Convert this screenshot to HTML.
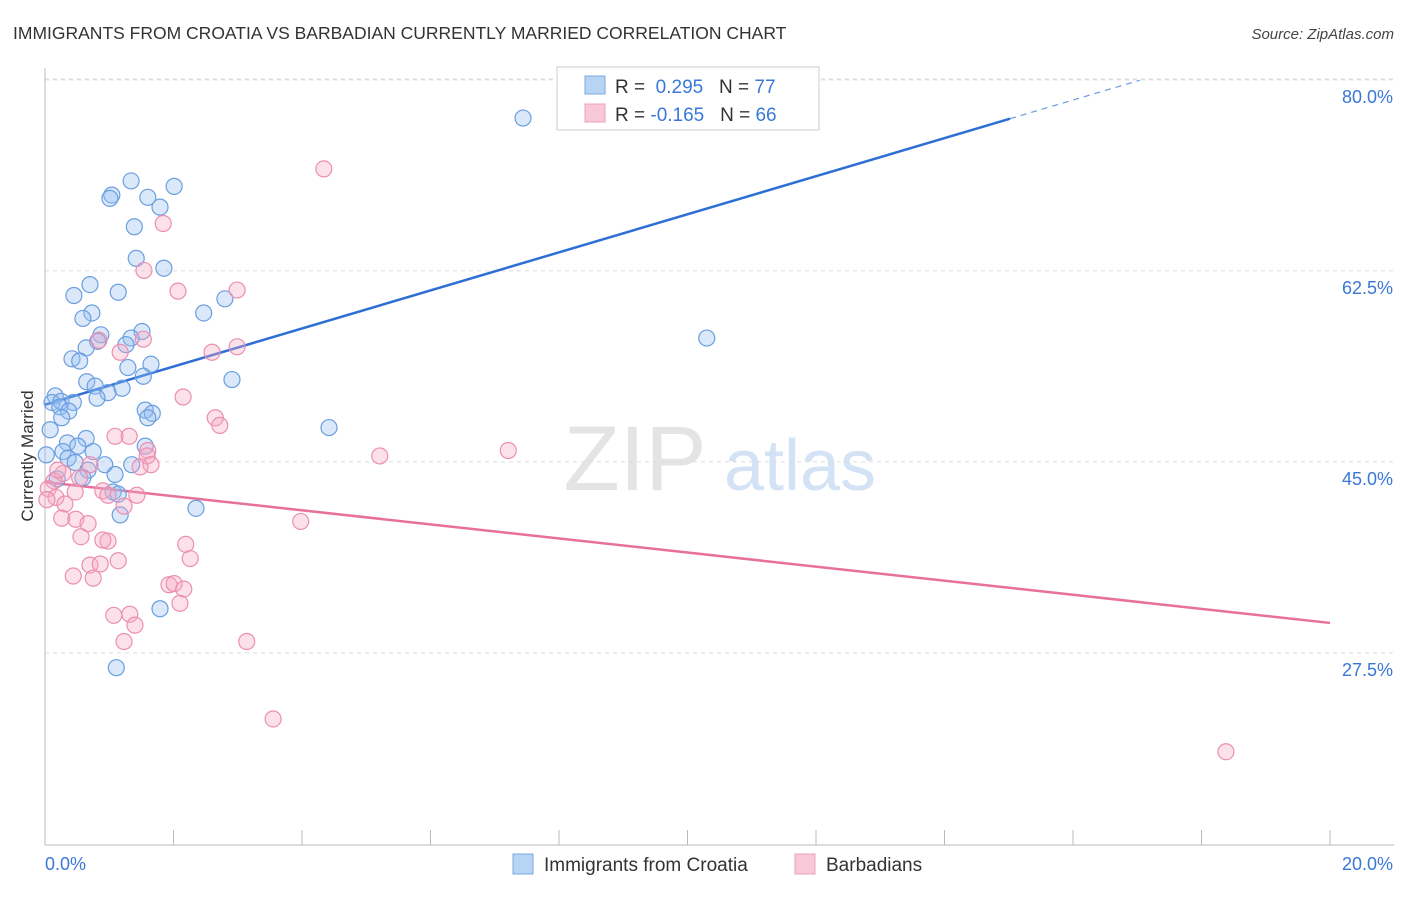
<!DOCTYPE html>
<html><head><meta charset="utf-8"><style>
body{margin:0;background:#fff;font-family:"Liberation Sans",sans-serif;}
svg text{font-family:"Liberation Sans",sans-serif;}
</style></head><body>
<svg id="chart" width="1406" height="892" xmlns="http://www.w3.org/2000/svg">
<text x="13" y="39" font-size="17.5" fill="#333">IMMIGRANTS FROM CROATIA VS BARBADIAN CURRENTLY MARRIED CORRELATION CHART</text>
<text x="1394" y="39" font-size="15" fill="#444" text-anchor="end" font-style="italic">Source: ZipAtlas.com</text>
<text transform="translate(33,456) rotate(-90)" font-size="17" fill="#333" text-anchor="middle">Currently Married</text>
<g><text x="635" y="490" font-size="92" fill="#e4e4e4" text-anchor="middle" font-family="Liberation Serif">ZIP</text><text x="800" y="490" font-size="72" fill="#d3e3f5" text-anchor="middle">atlas</text></g>
<g id="grid"></g><g id="axes"></g><g id="trend"></g><g id="pts"></g>
<g>
<rect x="557" y="67" width="262" height="63" fill="#fff" stroke="#ccc"/>
<rect x="585" y="76" width="20" height="18" fill="#b8d4f4" stroke="#7aa8e0"/>
<rect x="585" y="104" width="20" height="18" fill="#f9c8d8" stroke="#eca0bb"/>
<text x="615" y="93" font-size="19" fill="#333">R = <tspan fill="#3a78d8">&#160;0.295</tspan>&#160;&#160;&#160;N = <tspan fill="#3a78d8">77</tspan></text>
<text x="615" y="121" font-size="19" fill="#333">R = <tspan fill="#3a78d8">-0.165</tspan>&#160;&#160;&#160;N = <tspan fill="#3a78d8">66</tspan></text>
</g>
<g>
<rect x="513" y="854" width="20" height="20" fill="#b8d4f4" stroke="#7aa8e0"/>
<text x="544" y="871" font-size="19" fill="#333">Immigrants from Croatia</text>
<rect x="795" y="854" width="20" height="20" fill="#f9c8d8" stroke="#eca0bb"/>
<text x="826" y="871" font-size="19" fill="#333">Barbadians</text>
</g>
</svg>
<script>
const yTicks=[80,62.5,45,27.5];
const yTickLabels=["80.0%","62.5%","45.0%","27.5%"];
const xTickLabels=["0.0%","20.0%"];
const blueX=[7.44,1.34,2.01,1.04,1.01,1.60,1.79,1.39,1.42,1.85,0.70,0.45,1.14,2.80,2.47,0.73,0.59,10.30,0.87,1.51,1.34,0.82,1.26,0.64,0.42,0.54,1.65,1.29,1.53,2.91,0.65,0.78,1.20,0.98,0.16,0.81,0.11,0.25,0.44,0.23,0.37,1.56,1.67,1.60,0.26,0.08,4.42,0.64,0.35,0.51,1.56,0.28,0.75,0.36,0.47,0.93,1.35,0.67,1.09,0.59,0.19,1.06,1.14,2.35,1.17,1.79,1.11,0.02];
const blueY=[78.06,72.3,71.8,71.0,70.7,70.8,69.9,68.1,65.2,64.3,62.8,61.8,62.1,61.5,60.2,60.2,59.7,57.9,58.2,58.5,57.9,57.6,57.3,57.0,56.0,55.8,55.5,55.2,54.4,54.1,53.9,53.5,53.3,52.9,52.6,52.4,52.0,52.1,52.0,51.6,51.2,51.3,51.0,50.6,50.6,49.5,49.7,48.7,48.3,48.0,48.0,47.5,47.5,46.9,46.5,46.3,46.3,45.8,45.4,45.1,45.0,43.8,43.6,42.3,41.7,33.1,27.7,47.2];
const pinkX=[4.34,1.84,1.54,2.07,2.99,0.84,1.53,2.60,2.99,1.17,2.15,2.65,2.72,1.09,1.31,1.60,5.21,7.21,1.59,1.65,1.48,0.70,0.28,0.54,0.14,0.05,0.17,0.47,0.90,1.43,0.98,1.23,0.31,0.26,0.48,0.67,3.98,0.56,0.98,0.90,2.19,1.14,2.26,0.70,0.86,0.44,0.75,1.93,2.01,2.16,2.10,1.07,1.32,1.40,1.23,3.14,3.55,18.38,0.03,0.2];
const pinkY=[73.4,68.4,64.1,62.2,62.3,57.7,57.8,56.6,57.1,56.6,52.5,50.6,49.9,48.9,48.9,47.6,47.1,47.6,47.1,46.3,46.1,46.3,45.5,45.1,44.8,44.1,43.3,43.8,43.9,43.5,43.5,42.5,42.7,41.4,41.3,40.9,41.1,39.7,39.3,39.4,39.0,37.5,37.7,37.1,37.2,36.1,35.9,35.3,35.4,34.9,33.6,32.5,32.6,31.6,30.1,30.1,23.0,20.0,43.1,45.8];
const blueTrend=[51.8,78.0];   // value at x=0 and x=15.02
const blueTrendEnd=[15.02,17.04];
const pinkTrend=[44.7,31.8];   // value at x=0 and x=20
const NS="http://www.w3.org/2000/svg";
const X=v=>45+v*64.25, Y=v=>970-v*10.914;
function mk(t,a,p){const e=document.createElementNS(NS,t);for(const k in a)e.setAttribute(k,a[k]);document.getElementById(p).appendChild(e);return e;}
yTicks.forEach((t,i)=>{
 const l=mk('line',{x1:45,x2:1394,y1:Y(t)-17,y2:Y(t)-17,stroke:'#ddd','stroke-dasharray':'4,4'},'grid');
 
 
 const tx=mk('text',{x:1393,y:Y(t)+6,'font-size':18,fill:'#3a78d8','text-anchor':'end'},'grid');
 tx.textContent=yTickLabels[i];
 
 
});
mk('line',{x1:45,x2:1394,y1:79,y2:79,stroke:'#ddd','stroke-dasharray':'4,4'},'grid');
const ax=mk('line',{x1:45,x2:45,y1:68,y2:845,stroke:'#bbb'},'axes');


const bx=mk('line',{x1:45,x2:1394,y1:845,y2:845,stroke:'#bbb'},'axes');


for(let i=0;i<=10;i++){mk('line',{x1:X(i*2),x2:X(i*2),y1:830,y2:845,stroke:'#bbb'},'axes');}
[0,20].forEach((v,i)=>{const t=mk('text',{x:i?1393:45,y:870,'font-size':18,fill:'#3a78d8','text-anchor':i?'end':'start'},'axes');t.textContent=xTickLabels[i];
 
 });
function pts(xs,ys,fill,stroke,name){xs.forEach((x,i)=>{const c=mk('circle',{cx:X(x),cy:Y(ys[i]),r:8,fill:fill,stroke:stroke,'stroke-width':1.2},'pts');
 
 });}
pts(blueX,blueY,'rgba(150,190,240,0.35)','#6a9fe0','croatia-point');
pts(pinkX,pinkY,'rgba(245,170,195,0.35)','#eb8fb0','barbadian-point');
const bs=(blueTrend[1]-blueTrend[0])/15.02;
const b1=mk('line',{x1:X(0),y1:Y(blueTrend[0]),x2:X(blueTrendEnd[0]),y2:Y(blueTrend[1]),stroke:'#2e6fd6','stroke-width':2.5},'trend');


const b2=mk('line',{x1:X(blueTrendEnd[0]),y1:Y(blueTrend[1]),x2:X(blueTrendEnd[1]),y2:Y(blueTrend[0]+bs*blueTrendEnd[1]),stroke:'#6a9fe0','stroke-width':1.2,'stroke-dasharray':'6,5'},'trend');


const p1=mk('line',{x1:X(0),y1:Y(pinkTrend[0]),x2:X(20),y2:Y(pinkTrend[1]),stroke:'#e8709a','stroke-width':2.5},'trend');


</script>
</body></html>
